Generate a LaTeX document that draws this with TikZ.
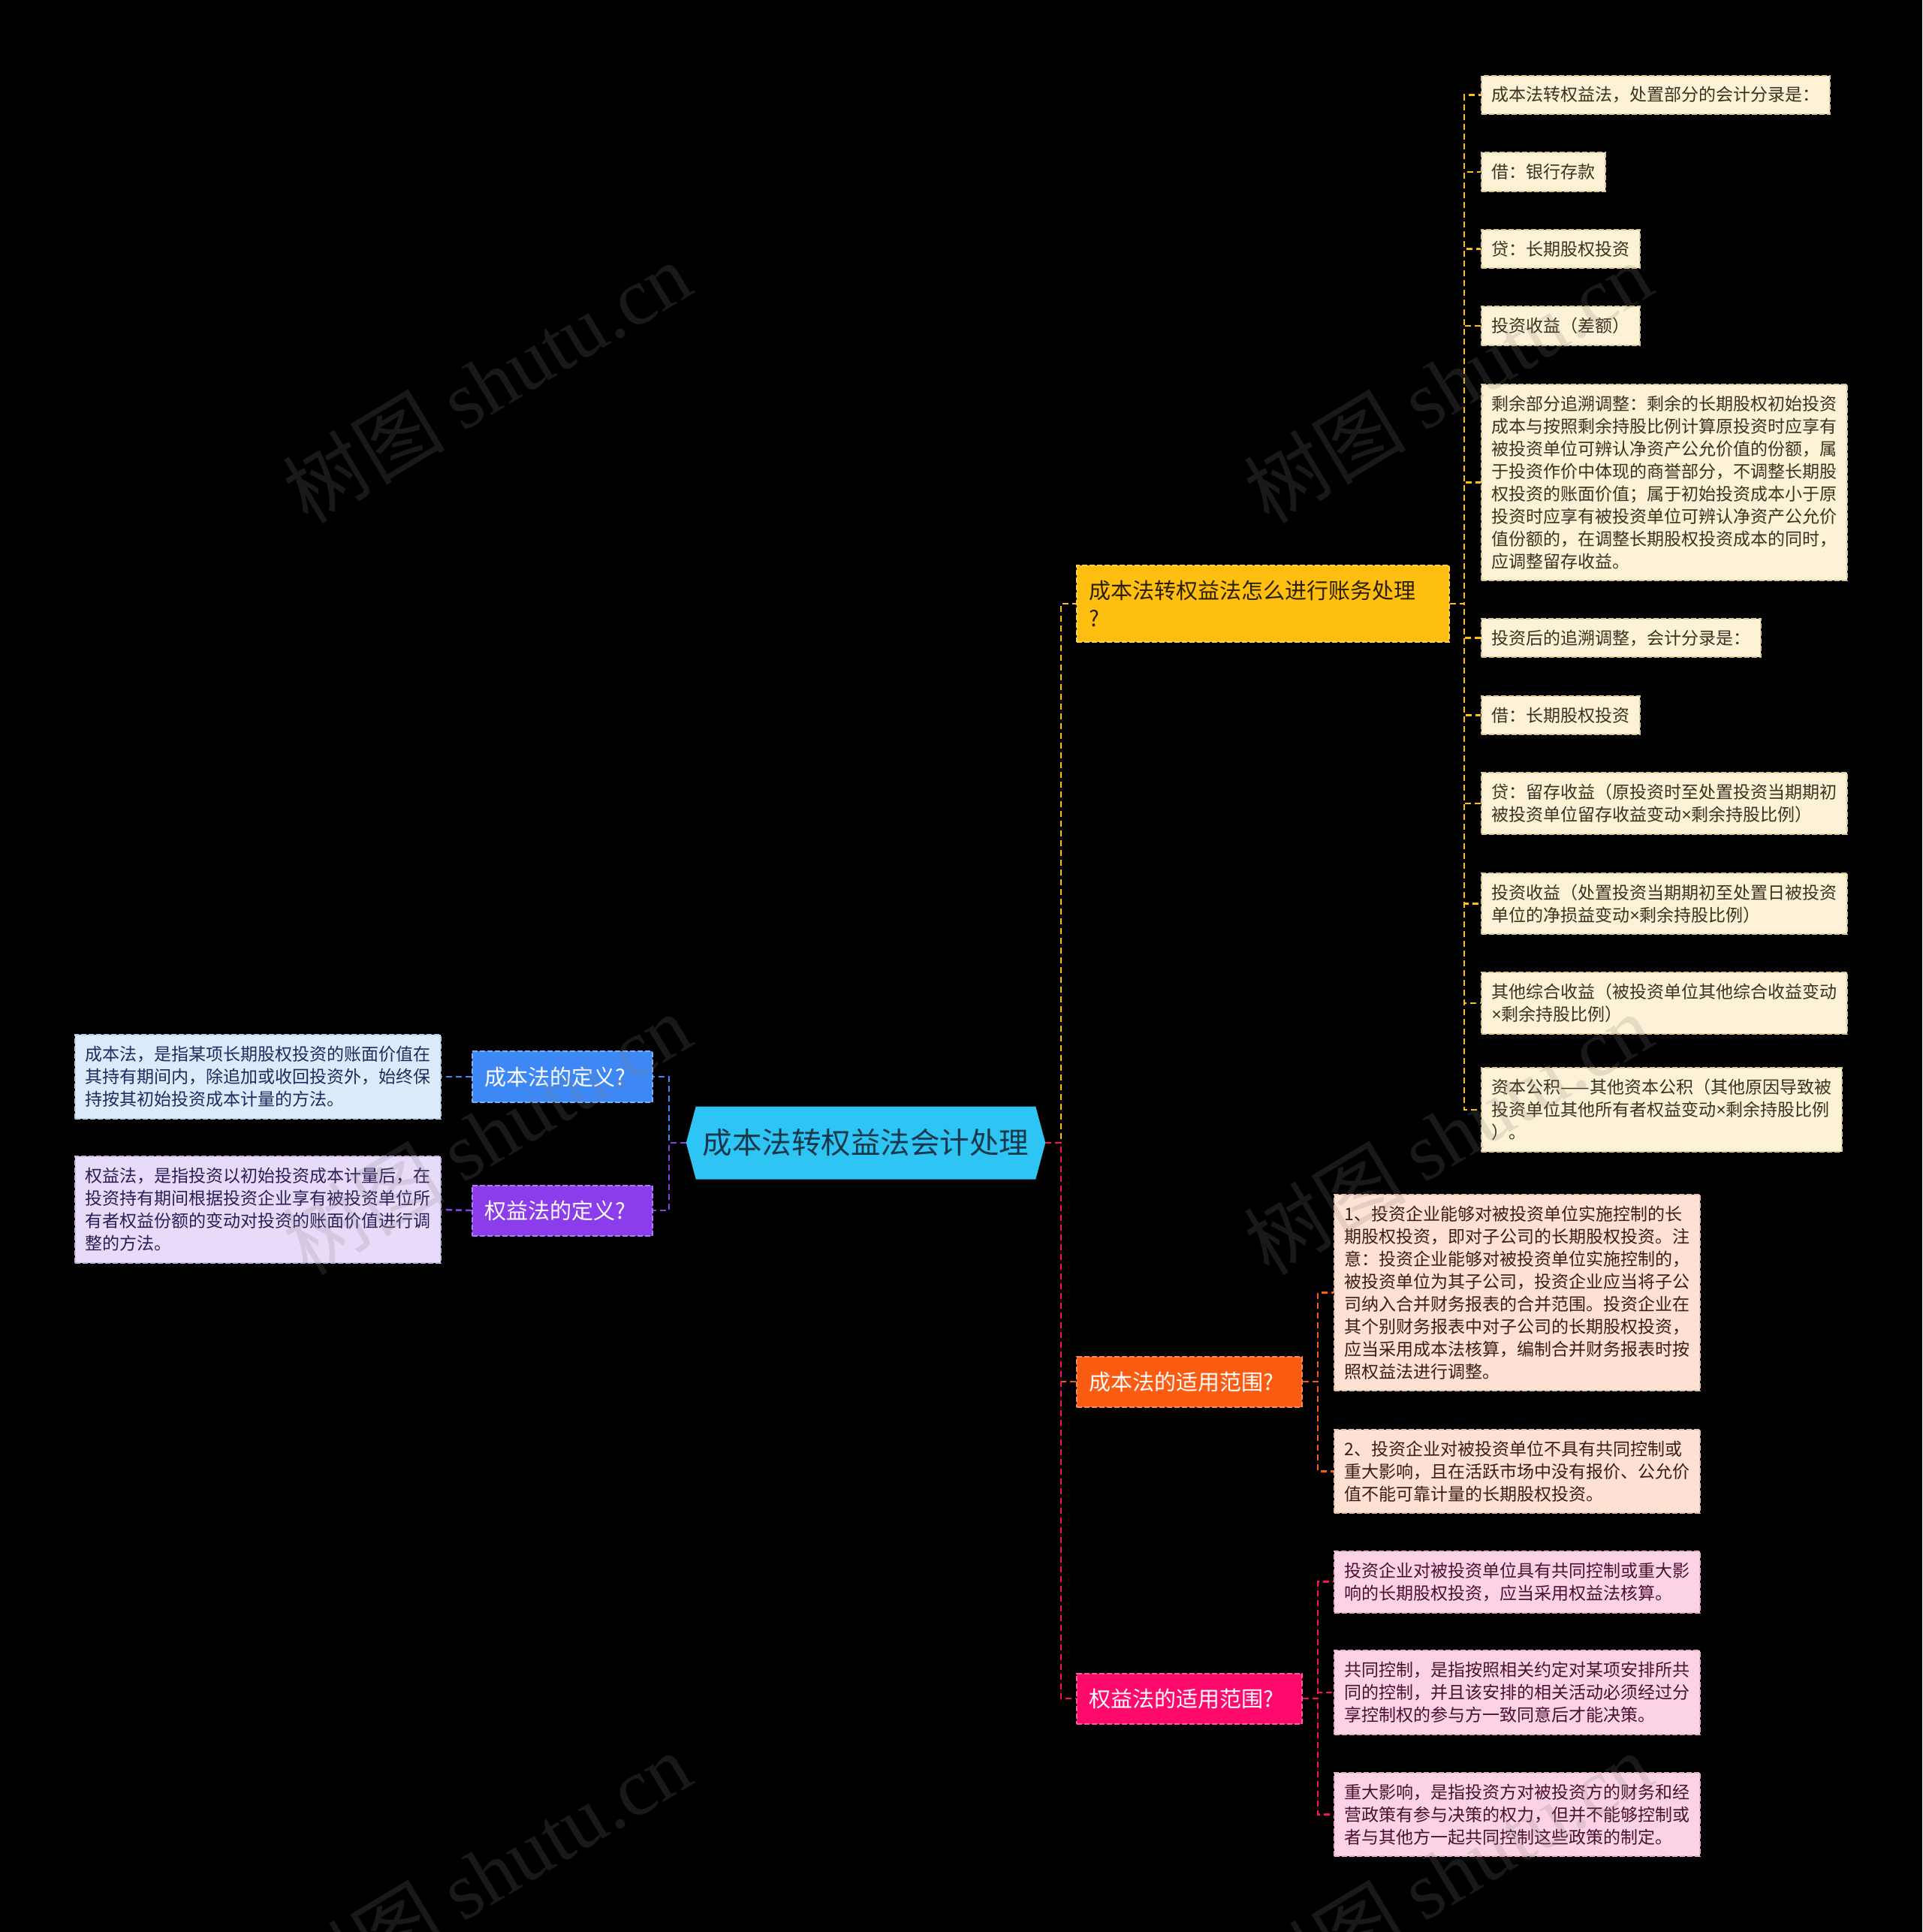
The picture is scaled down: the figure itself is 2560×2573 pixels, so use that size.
\documentclass[tikz,border=0pt]{standalone}
\usepackage{fontspec}
\setmainfont{Noto Sans CJK SC}
\newfontfamily\latinfont{Noto Sans}
\newfontfamily\wmfont{Liberation Serif}
\newcommand{\timesx}{{\latinfont ×}}
\usetikzlibrary{shapes.symbols}

\definecolor{rootc}{HTML}{2EC4F3}
\definecolor{roott}{HTML}{17384A}
\definecolor{acctc}{HTML}{FFBF10}
\definecolor{acctd}{HTML}{FFD448}
\definecolor{accttxt}{HTML}{2A1F00}
\definecolor{acctleaf}{HTML}{FDF2D5}
\definecolor{acctleafd}{HTML}{D9C796}
\definecolor{acctleaft}{HTML}{3A3322}
\definecolor{costc}{HTML}{FC5B12}
\definecolor{costd}{HTML}{FF8A50}
\definecolor{costleaf}{HTML}{FDE2D3}
\definecolor{costleafd}{HTML}{E6BFAA}
\definecolor{costleaft}{HTML}{3A1E12}
\definecolor{eqc}{HTML}{FF0A6C}
\definecolor{eqd}{HTML}{FF5C9A}
\definecolor{eqleaf}{HTML}{FCD3E5}
\definecolor{eqleafd}{HTML}{E8AEC7}
\definecolor{eqleaft}{HTML}{4A1030}
\definecolor{defac}{HTML}{3D88F5}
\definecolor{defad}{HTML}{78AEFA}
\definecolor{defaleaf}{HTML}{DCEBFC}
\definecolor{defaleafd}{HTML}{B6CCEA}
\definecolor{defaleaft}{HTML}{1F2B5C}
\definecolor{defbc}{HTML}{8B3DEC}
\definecolor{defbd}{HTML}{AE7AF5}
\definecolor{defbleaf}{HTML}{E8DBF9}
\definecolor{defbleafd}{HTML}{C6B2E6}
\definecolor{defbleaft}{HTML}{2A1F55}

\tikzset{
  rootbox/.style={signal, signal to=west and east, signal pointer angle=150,
    fill=rootc, text=roott, inner xsep=9pt, minimum height=97pt,
    font=\fontsize{39.5}{44}\selectfont},
  branch/.style={rectangle, align=left, inner xsep=16pt, inner ysep=20pt,
    line width=2pt, dash pattern=on 7pt off 3pt, text=white,
    font=\fontsize{29}{37}\selectfont},
  leaf/.style={rectangle, align=left, inner xsep=13.5pt, inner ysep=15pt,
    line width=2pt, dash pattern=on 7pt off 3pt,
    font=\fontsize{23}{30}\selectfont},
  link/.style={line width=2.5pt, dash pattern=on 8pt off 5pt},
  watermark/.style={rotate=31, text=gray, opacity=0.2,
    font=\fontsize{108}{108}\selectfont}
}

\begin{document}
\begin{tikzpicture}[x=1pt,y=-1pt]
  \useasboundingbox (0,0) rectangle (2560,2573);
  \fill[black] (0,0) rectangle (2560,2573);

  \node[rootbox] (root) at (1153,1522) {成本法转权益法会计处理};

  % left side
  \node[branch, fill=defac, draw=defad, text width=208pt, anchor=east] (defa) at (870,1434) {成本法的定义?};
  \node[branch, fill=defbc, draw=defbd, text width=208pt, anchor=east] (defb) at (870,1612) {权益法的定义?};
  \node[leaf, fill=defaleaf, draw=defaleafd, text=defaleaft, anchor=east] (defatxt) at (588,1434)
    {成本法，是指某项长期股权投资的账面价值在\\其持有期间内，除追加或收回投资外，始终保\\持按其初始投资成本计量的方法。};
  \node[leaf, fill=defbleaf, draw=defbleafd, text=defbleaft, anchor=east] (defbtxt) at (588,1611)
    {权益法，是指投资以初始投资成本计量后，在\\投资持有期间根据投资企业享有被投资单位所\\有者权益份额的变动对投资的账面价值进行调\\整的方法。};

  \coordinate (lj) at (891,1522);
  \draw[link, defac] (root.west) -- (lj) |- (defa.east);
  \draw[link, defac] (defa.west) -- (defatxt.east);
  \draw[link, defbc] (root.west) -- (lj) |- (defb.east);
  \draw[link, defbc] (defb.west) -- (defbtxt.east);

  % right side
  \node[branch, fill=acctc, draw=acctd, text=accttxt, text width=464pt, anchor=west] (acct) at (1433,804)
    {成本法转权益法怎么进行账务处理\\?};
  \node[branch, fill=costc, draw=costd, text width=268pt, anchor=west] (cost) at (1433,1840) {成本法的适用范围?};
  \node[branch, fill=eqc, draw=eqd, text width=268pt, anchor=west] (eq) at (1433,2262) {权益法的适用范围?};

  \coordinate (rj) at (1413,1522);
  \coordinate (aj) at (1950,804);
  \coordinate (cj) at (1755,1840);
  \coordinate (ej) at (1755,2262);

  \foreach \yy/\txt [count=\i] in {
      126.5/{成本法转权益法，处置部分的会计分录是：},
      229/{借：银行存款},
      331.5/{贷：长期股权投资},
      434/{投资收益（差额）},
      642.5/{剩余部分追溯调整：剩余的长期股权初始投资\\成本与按照剩余持股比例计算原投资时应享有\\被投资单位可辨认净资产公允价值的份额，属\\于投资作价中体现的商誉部分，不调整长期股\\权投资的账面价值；属于初始投资成本小于原\\投资时应享有被投资单位可辨认净资产公允价\\值份额的，在调整长期股权投资成本的同时，\\应调整留存收益。},
      849.5/{投资后的追溯调整，会计分录是：},
      952.5/{借：长期股权投资},
      1070/{贷：留存收益（原投资时至处置投资当期期初\\被投资单位留存收益变动\timesx 剩余持股比例）},
      1203.5/{投资收益（处置投资当期期初至处置日被投资\\单位的净损益变动\timesx 剩余持股比例）},
      1336/{其他综合收益（被投资单位其他综合收益变动\\\timesx 剩余持股比例）},
      1478/{资本公积——其他资本公积（其他原因导致被\\投资单位其他所有者权益变动\timesx 剩余持股比例\\）。}}
    \node[leaf, fill=acctleaf, draw=acctleafd, text=acctleaft, anchor=west] (acct\i) at (1972,\yy) {\txt};

  \foreach \yy/\txt [count=\i] in {
      1721.5/{1、投资企业能够对被投资单位实施控制的长\\期股权投资，即对子公司的长期股权投资。注\\意：投资企业能够对被投资单位实施控制的，\\被投资单位为其子公司，投资企业应当将子公\\司纳入合并财务报表的合并范围。投资企业在\\其个别财务报表中对子公司的长期股权投资，\\应当采用成本法核算，编制合并财务报表时按\\照权益法进行调整。},
      1959.5/{2、投资企业对被投资单位不具有共同控制或\\重大影响，且在活跃市场中没有报价、公允价\\值不能可靠计量的长期股权投资。}}
    \node[leaf, fill=costleaf, draw=costleafd, text=costleaft, anchor=west] (cost\i) at (1776,\yy) {\txt};

  \foreach \yy/\txt [count=\i] in {
      2106.5/{投资企业对被投资单位具有共同控制或重大影\\响的长期股权投资，应当采用权益法核算。},
      2254/{共同控制，是指按照相关约定对某项安排所共\\同的控制，并且该安排的相关活动必须经过分\\享控制权的参与方一致同意后才能决策。},
      2416.5/{重大影响，是指投资方对被投资方的财务和经\\营政策有参与决策的权力，但并不能够控制或\\者与其他方一起共同控制这些政策的制定。}}
    \node[leaf, fill=eqleaf, draw=eqleafd, text=eqleaft, anchor=west] (eq\i) at (1776,\yy) {\txt};

  \draw[link, acctc] (root.east) -- (rj) |- (acct.west);
  \draw[link, costc] (root.east) -- (rj) |- (cost.west);
  \draw[link, eqc] (root.east) -- (rj) |- (eq.west);

  \foreach \i in {1,...,11}
    \draw[link, acctc] (acct.east) -- (aj) |- (acct\i.west);
  \foreach \i in {1,2}
    \draw[link, costc] (cost.east) -- (cj) |- (cost\i.west);
  \foreach \i in {1,2,3}
    \draw[link, eqc] (eq.east) -- (ej) |- (eq\i.west);

  % watermarks
  \foreach \wx/\wy in {648/509, 1928/509, 648/1510, 1928/1510, 648/2494, 1928/2494}
    \node[watermark] (wm) at (\wx,\wy) {树图 {\wmfont shutu.cn}};
\end{tikzpicture}
\end{document}
